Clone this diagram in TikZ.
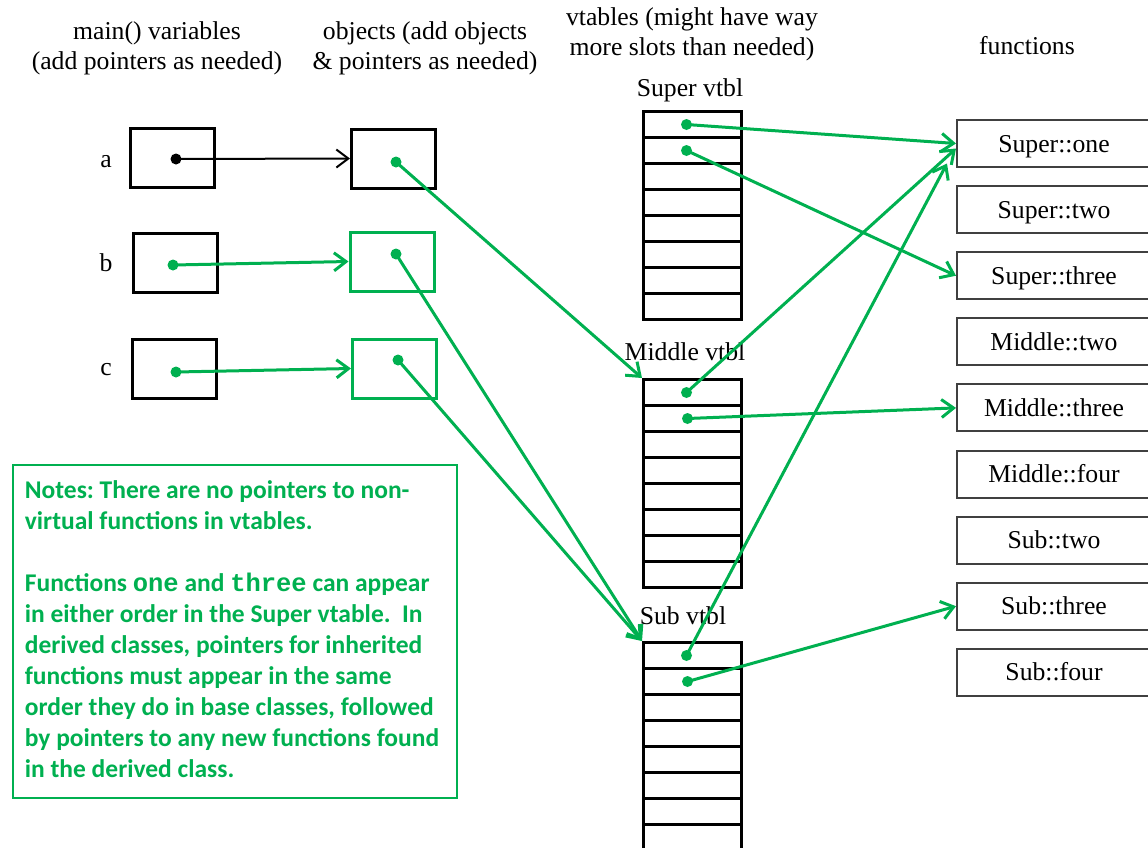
\documentclass[tikz,border=0pt]{standalone}
\usepackage{fontspec}
\setmainfont{Liberation Serif}
\newfontfamily\notefont{Carlito}
\newfontfamily\notemono{Liberation Mono}
\usetikzlibrary{arrows.meta}
\definecolor{vgreen}{RGB}{0,176,80}
\frenchspacing

\begin{document}
\begin{tikzpicture}[x=1pt,y=-1pt,
		font=\fontsize{25.7}{30}\selectfont,
		box/.style={draw, line width=3pt, minimum width=84pt, minimum height=59pt, inner sep=0pt},
		slot/.style={draw, line width=3pt, minimum width=98pt, minimum height=26pt, inner sep=0pt},
		fn/.style={draw=black!75, line width=2pt, minimum width=194pt, minimum height=47pt, inner sep=0pt,
			text height=17pt, text depth=0pt},
		dot/.style={circle, fill=vgreen, inner sep=0pt, minimum size=11pt},
		ptr/.style={vgreen, line width=3pt, -{Straight Barb[length=12pt,width=18pt]}},
		notebox/.style={draw=vgreen, line width=2pt, minimum width=444pt, minimum height=333pt},
		notetext/.style={align=left, inner sep=0pt, text=vgreen, font=\notefont\bfseries\fontsize{25.5}{31}\selectfont}]
		\useasboundingbox (0,0) rectangle (1148,847);
		% headings
		\draw (157,48) node [align=center, inner sep=0pt] (hvars) {main() variables\\(add pointers as needed)};
		\draw (425,48) node [align=center, inner sep=0pt] (hobjs) {objects (add objects\\\& pointers as needed)};
		\draw (692,34) node [align=center, inner sep=0pt] (hvtbl) {vtables (might have way\\more slots than needed)};
		\draw (1027,46) node [inner sep=0pt] (hfuns) {functions};
		% variables and objects
		\draw (106,162) node (la) {a};
		\draw (106,263) node (lb) {b};
		\draw (106,370) node (lc) {c};
		\draw (172.5,158) node [box] (va) {};
		\draw (175,263) node [box] (vb) {};
		\draw (174,368.5) node [box] (vc) {};
		\draw (393.5,158.5) node [box] (oa) {};
		\draw (392,261.5) node [box, vgreen] (ob) {};
		\draw (394.5,368.5) node [box, vgreen] (oc) {};
		% vtables
		\foreach \t/\y in {super/111.5,middle/379.5,sub/642.5}
			\foreach \i in {1,...,8}
				\draw (692.5,{\y+13+26*(\i-1)}) node [slot] (\t\i) {};
		\draw (690,90) node (lsuper) {Super vtbl};
		\draw (685,352) node (lmiddle) {Middle vtbl};
		\draw (683,616) node (lsub) {Sub vtbl};
		% functions
		\foreach \f [count=\i] in {Super::one,Super::two,Super::three,Middle::two,Middle::three,Middle::four,Sub::two,Sub::three,Sub::four}
			\draw (1054,{143.5+66.1*(\i-1)}) node [fn] (fn\i) {\f};
		% notes
		\draw (235,631.5) node [notebox] (notes) {};
		\draw (232,629.5) node [notetext] (notestext) {Notes: There are no pointers to non-\\virtual functions in vtables.\\[31pt]Functions {\notemono\bfseries one} and {\notemono\bfseries three} can appear\\in either order in the Super vtable.\ \ In\\derived classes, pointers for inherited\\functions must appear in the same\\order they do in base classes, followed\\by pointers to any new functions found\\in the derived class.};
		% pointers
		\draw (176,159) node [dot, fill=black] (pa) {};
		\draw (173,265) node [dot] (pb) {};
		\draw (176,372) node [dot] (pc) {};
		\draw (396,162) node [dot] (qa) {};
		\draw (396,254) node [dot] (qb) {};
		\draw (398,360) node [dot] (qc) {};
		\draw ([xshift=-6pt]super1.center) node [dot] (sp1) {};
		\draw ([xshift=-6pt]super2.center) node [dot] (sp2) {};
		\draw ([xshift=-6pt]middle1.center) node [dot] (mp1) {};
		\draw ([xshift=-5pt]middle2.center) node [dot] (mp2) {};
		\draw ([xshift=-6pt]sub1.center) node [dot] (bp1) {};
		\draw ([xshift=-5pt]sub2.center) node [dot] (bp2) {};
		\coordinate (m1end) at ([yshift=-5pt]fn1.west);
		\coordinate (b1end) at ([xshift=-9pt,yshift=-20pt]fn1.west);
		\path[ptr]
			(pa.center) edge [black, line width=2pt] (oa.west)
			(pb.center) edge (ob.west)
			(pc.center) edge (oc.west)
			(qa.center) edge (middle1.north west)
			(qb.center) edge (sub1.north west)
			(qc.center) edge (sub1.north west)
			(sp1.center) edge (fn1.west)
			(sp2.center) edge (fn3.west)
			(mp1.center) edge (m1end)
			(mp2.center) edge (fn5.west)
			(bp1.center) edge (b1end)
			(bp2.center) edge (fn8.west);
	\end{tikzpicture}
\end{document}
